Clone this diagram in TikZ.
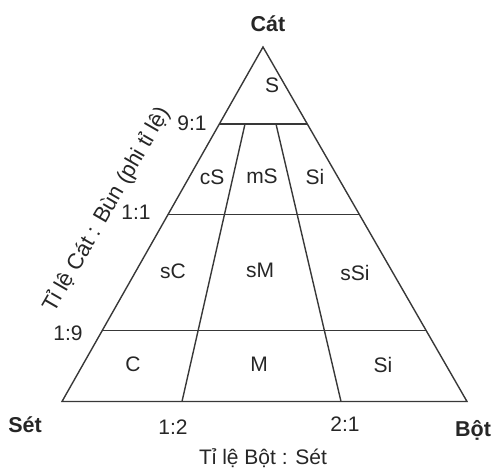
\documentclass[tikz,border=0pt]{standalone}
\usepackage{fontspec}
\setmainfont{Liberation Sans}
\usetikzlibrary{calc}
\definecolor{edgegray}{HTML}{383838}
\definecolor{inkgray}{HTML}{262626}
\begin{document}
\begin{tikzpicture}[x=1pt,y=-1pt,
  edge/.style={draw=edgegray,line width=1.4pt,line join=miter},
  lbl/.style={inner sep=0pt,text=inkgray,font=\fontsize{21}{25}\selectfont},
  corner/.style={lbl,font=\fontsize{21.5}{25}\selectfont\bfseries}]
\useasboundingbox (0,0) rectangle (492,475);

% triangle corners
\coordinate (A) at (263,47);
\coordinate (L) at (62,401.5);
\coordinate (R) at (467,401.5);

% ratio levels on both sides
\coordinate (l91) at ($(A)!0.2175!(L)$);
\coordinate (r91) at ($(A)!0.2175!(R)$);
\coordinate (l11) at ($(A)!0.4718!(L)$);
\coordinate (r11) at ($(A)!0.4718!(R)$);
\coordinate (l19) at ($(A)!0.7994!(L)$);
\coordinate (r19) at ($(A)!0.7994!(R)$);

% silt : clay dividers
\coordinate (d1t) at (245,124);
\coordinate (d1b) at (182,401.5);
\coordinate (d2t) at (276,124);
\coordinate (d2b) at (341,401.5);

\draw[edge] (A) -- (L) -- (R) -- cycle;
\draw[edge] (l91) -- (r91);
\draw[edge] (l11) -- (r11);
\draw[edge] (l19) -- (r19);
\draw[edge] (d1t) -- (d1b);
\draw[edge] (d2t) -- (d2b);

% class labels
\node[lbl] (S)   at (272,85)  {S};
\node[lbl] (cS)  at (212,177) {cS};
\node[lbl] (mS)  at (262,176) {mS};
\node[lbl] (Si1) at (315,177) {Si};
\node[lbl] (sC)  at (173,271) {sC};
\node[lbl] (sM)  at (260,270) {sM};
\node[lbl] (sSi) at (355,273) {sSi};
\node[lbl] (C)   at (133,364) {C};
\node[lbl] (M)   at (259,364) {M};
\node[lbl] (Si2) at (383,365) {Si};

% ratio ticks
\node[lbl] (t91) at (192,123) {9:1};
\node[lbl] (t11) at (136,212) {1:1};
\node[lbl] (t19) at (68,333)  {1:9};
\node[lbl] (t12) at (173,427) {1:2};
\node[lbl] (t21) at (345,424) {2:1};

% corners
\node[corner] (cat) at (268,24)  {Cát};
\node[corner] (set) at (25,425)  {Sét};
\node[corner] (bot) at (473,430) {Bột};

% axis titles
\node[lbl] (xaxis) at (263,458) {Tỉ lệ Bột : Sét};
\node[lbl,rotate=60,font=\fontsize{22}{26}\selectfont] (yaxis) at (107,210) {Tỉ lệ Cát : Bùn (phi tỉ lệ)};
\end{tikzpicture}
\end{document}
